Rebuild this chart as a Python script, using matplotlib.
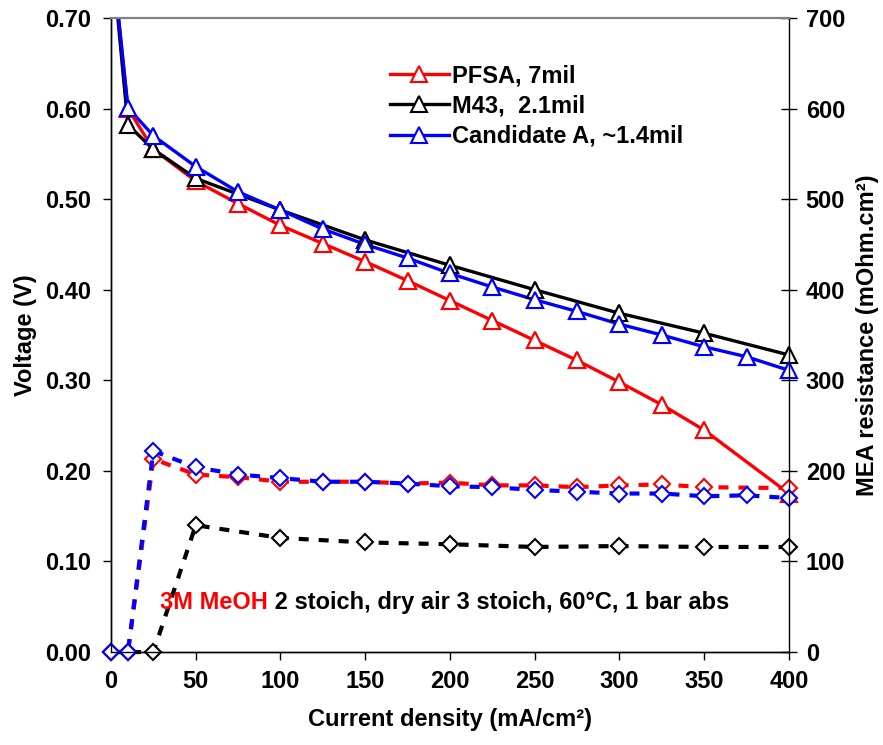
import matplotlib
matplotlib.use("Agg")
import matplotlib.pyplot as plt
from matplotlib.ticker import FormatStrFormatter

plt.rcParams['font.family'] = ['Liberation Sans', 'DejaVu Sans']
plt.rcParams['font.weight'] = 'bold'

# polarisation curves (voltage, V)
x_pfsa = [0, 10, 25, 50, 75, 100, 125, 150, 175, 200, 225, 250, 275, 300, 325, 350, 400]
v_pfsa = [0.78, 0.600, 0.555, 0.520, 0.495, 0.471, 0.451, 0.431, 0.410, 0.388, 0.366, 0.344,
          0.322, 0.298, 0.273, 0.245, 0.175]

x_m43 = [0, 10, 25, 50, 100, 150, 200, 250, 300, 350, 400]
v_m43 = [0.78, 0.582, 0.555, 0.523, 0.488, 0.455, 0.427, 0.400, 0.374, 0.352, 0.328]

x_cand = [0, 10, 25, 50, 75, 100, 125, 150, 175, 200, 225, 250, 275, 300, 325, 350, 375, 400]
v_cand = [0.78, 0.601, 0.570, 0.536, 0.508, 0.488, 0.467, 0.450, 0.435, 0.418, 0.403, 0.389,
          0.376, 0.362, 0.350, 0.337, 0.326, 0.311]

# MEA resistance (mOhm.cm2)
r_pfsa = [0, 0, 213, 196, 193, 188, 188, 188, 186, 187, 184, 184, 182, 184, 185, 182, 181]
r_m43 = [0, 0, 0, 140, 126, 121, 119, 116, 117, 116, 116]
r_cand = [0, 0, 222, 204, 196, 192, 188, 188, 186, 183, 182, 179, 177, 175, 175, 172, 173, 170]

FS = 17

fig = plt.figure(figsize=(8.83, 7.45), dpi=100)
ax = fig.add_axes([0.1257, 0.1248, 0.7678, 0.851])
ax2 = ax.twinx()

series = [(x_pfsa, v_pfsa, r_pfsa, '#ff0000', 'PFSA, 7mil'),
          (x_m43, v_m43, r_m43, 'black', 'M43,  2.1mil'),
          (x_cand, v_cand, r_cand, '#0000ff', 'Candidate A, ~1.4mil')]

tri = dict(marker='^', markersize=12, markerfacecolor='white', markeredgewidth=1.5)
handles = []
for xs, vs, rs, c, lab in series:
    h, = ax.plot(xs, vs, color=c, lw=2.4, markeredgecolor=c, label=lab, **tri)
    handles.append(h)
    # markers on the edge are not cut by the frame
    ax.plot(xs[1:], vs[1:], color=c, lw=0, markeredgecolor=c, clip_on=False, zorder=3, **tri)

dia = dict(marker='D', markersize=8, markerfacecolor='white', markeredgewidth=1.5)
for xs, vs, rs, c, lab in series:
    ax2.plot(xs, rs, color=c, markeredgecolor=c, linestyle=(0, (2.4, 2.4)), lw=3,
             clip_on=False, **dia)

ax.set_xlim(0, 400)
ax.set_ylim(0, 0.70)
ax2.set_ylim(0, 700)
ax.set_xticks(range(0, 401, 50))
ax.set_yticks([0, 0.1, 0.2, 0.3, 0.4, 0.5, 0.6, 0.7])
ax2.set_yticks(range(0, 701, 100))
ax.yaxis.set_major_formatter(FormatStrFormatter('%.2f'))

ax.tick_params(axis='x', direction='out', length=6, width=1, pad=7, labelsize=FS)
ax.tick_params(axis='y', direction='out', length=6, width=1, pad=8, labelsize=FS)
ax2.tick_params(axis='y', direction='inout', length=12, width=1, pad=6, labelsize=FS)

for a in (ax, ax2):
    a.spines['top'].set_color('#808080')
    a.spines['top'].set_linewidth(1.5)
    for s in ('left', 'bottom', 'right'):
        a.spines[s].set_linewidth(1)
        a.spines[s].set_color('black')
ax.spines['right'].set_visible(False)

ax.set_xlabel('Current density (mA/cm²)', fontsize=FS, fontweight='bold', labelpad=11)
ax.set_ylabel('Voltage (V)', fontsize=FS, fontweight='bold', labelpad=6)
ax2.set_ylabel('MEA resistance (mOhm.cm²)', fontsize=FS, fontweight='bold', labelpad=8)

ax2.legend(handles, [s[4] for s in series], loc='upper left', bbox_to_anchor=(0.38, 0.96),
           frameon=False, handlelength=2.5, handletextpad=0.15, labelspacing=0.3,
           prop={'weight': 'bold', 'size': FS})

t1 = ax2.text(29, 42, '3M MeOH', color='#ff0000', fontsize=FS, fontweight='bold', va='bottom')
ax2.annotate(' 2 stoich, dry air 3 stoich, 60°C, 1 bar abs', xy=(1, 0), xycoords=t1,
             va='bottom', ha='left', fontsize=FS, fontweight='bold', color='black')

fig.savefig('out.png', dpi=100)
